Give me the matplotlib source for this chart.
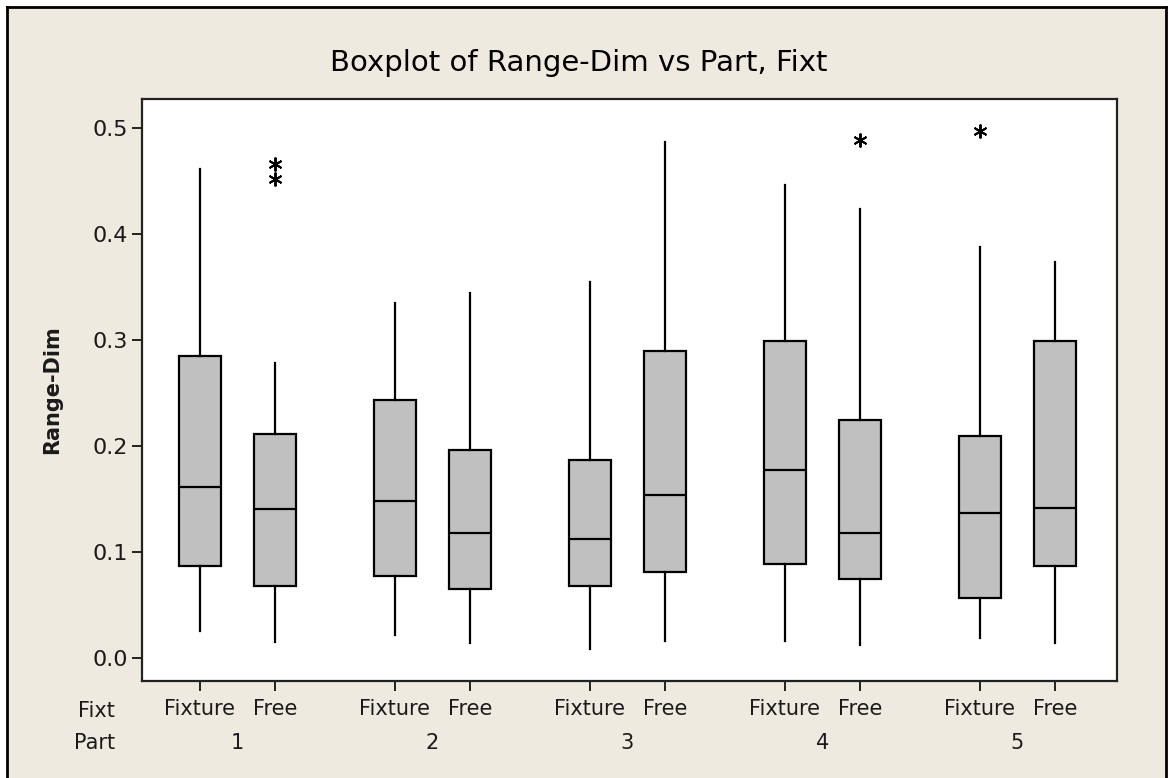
import numpy as np
import matplotlib
matplotlib.use("Agg")
import matplotlib.pyplot as plt
from matplotlib.lines import Line2D
from matplotlib.patches import Rectangle
from matplotlib.transforms import blended_transform_factory

# Datos (Minitab boxplot)
parts = ["1", "2", "3", "4", "5"]
fixt = ["Fixture", "Free"]

# orden: P1-Fixture, P1-Free, P2-Fixture, ...
whislo = [0.025, 0.015, 0.022, 0.014, 0.008, 0.016, 0.016, 0.012, 0.019, 0.014]
q1 = [0.087, 0.068, 0.077, 0.065, 0.068, 0.081, 0.089, 0.074, 0.057, 0.087]
med = [0.161, 0.140, 0.148, 0.118, 0.112, 0.154, 0.177, 0.118, 0.137, 0.141]
q3 = [0.285, 0.211, 0.243, 0.196, 0.187, 0.289, 0.299, 0.224, 0.209, 0.299]
whishi = [0.461, 0.278, 0.335, 0.344, 0.354, 0.486, 0.446, 0.423, 0.387, 0.373]
fliers = [[], [0.466, 0.452], [], [], [], [], [], [0.488], [0.497], []]

bg = "#EEEAE0"
txt = "#1a1a1a"
W, H = 1169, 778
fig = plt.figure(figsize=(W / 100, H / 100), dpi=100, facecolor="white")

# fondo beige con marco negro (estilo Minitab)
fig.patches.append(Rectangle((7 / W, 0), 1159 / W, 1 - 7 / H, transform=fig.transFigure,
                             facecolor=bg, edgecolor="none", zorder=-10))
for xs, ys in [([7 / W, 7 / W], [0, 1 - 7 / H]),
               ([7 / W, 1166 / W], [1 - 7 / H, 1 - 7 / H]),
               ([1166 / W, 1166 / W], [0, 1 - 7 / H])]:
    fig.lines.append(Line2D(xs, ys, transform=fig.transFigure, color="black", lw=2))

ax = fig.add_axes([142 / W, 1 - 681 / H, (1117 - 142) / W, (681 - 99) / H])
ax.set_facecolor("white")

# posiciones: cada parte ocupa 2.6 unidades, Fixture/Free separados 1
pos = []
for g in range(len(parts)):
    pos += [g * 2.6, g * 2.6 + 1]

stats = []
for i in range(len(pos)):
    stats.append(dict(whislo=whislo[i], q1=q1[i], med=med[i], q3=q3[i],
                      whishi=whishi[i], fliers=fliers[i]))

ax.bxp(stats, positions=pos, widths=0.55, patch_artist=True, showcaps=False,
       boxprops=dict(facecolor="#C0C0C0", edgecolor="black", linewidth=1.6),
       whiskerprops=dict(color="black", linewidth=1.6),
       medianprops=dict(color="black", linewidth=1.6),
       flierprops=dict(marker=(6, 2, 0), markersize=10, markeredgecolor="black",
                       markeredgewidth=1.4, markerfacecolor="none"))

ax.set_xlim(-0.773, 12.227)
ax.set_ylim(-0.0217, 0.527)
ax.set_yticks([0.0, 0.1, 0.2, 0.3, 0.4, 0.5])
ax.set_yticklabels(["0.0", "0.1", "0.2", "0.3", "0.4", "0.5"])
ax.set_xticks(pos)
ax.set_xticklabels(fixt * len(parts))
ax.tick_params(axis="both", direction="out", length=7, width=1.2, labelsize=15,
               color="black", labelcolor=txt)
ax.tick_params(axis="x", pad=6)
ax.tick_params(axis="y", pad=3, labelsize=16)
for s in ax.spines.values():
    s.set_linewidth(1.6)
    s.set_color("#222222")

ax.set_ylabel("Range-Dim", fontsize=15, fontweight="bold", labelpad=22, color=txt)

# segunda fila de etiquetas: número de parte
tr = blended_transform_factory(ax.transData, fig.transFigure)
for g, p in enumerate(parts):
    ax.text(g * 2.6 + 0.5, 1 - 743 / H, p, transform=tr, ha="center", va="center",
            fontsize=15, color=txt)
fig.text(115 / W, 1 - 711 / H, "Fixt", ha="right", va="center", fontsize=15, color=txt)
fig.text(115 / W, 1 - 743 / H, "Part", ha="right", va="center", fontsize=15, color=txt)

fig.text(579 / W, 1 - 63 / H, "Boxplot of Range-Dim vs Part, Fixt", ha="center", va="center",
         fontsize=21, color="black")

fig.savefig("out.png", dpi=100, facecolor=fig.get_facecolor())
